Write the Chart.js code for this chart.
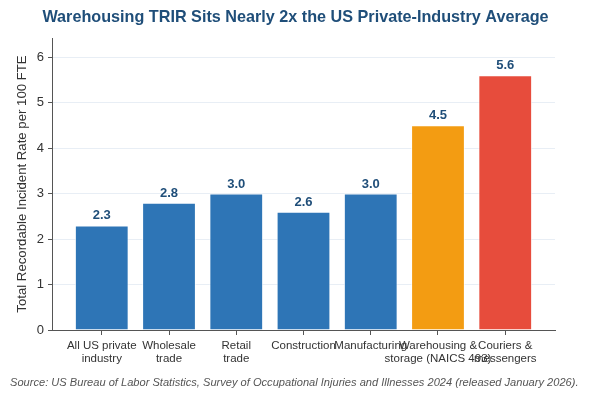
<!DOCTYPE html>
<html>
<head>
<meta charset="utf-8">
<script src="https://cdn.jsdelivr.net/npm/chart.js@4"></script>
<style>
html,body{margin:0;padding:0;background:#fff;}
#wrap{width:590px;height:400px;position:relative;}
</style>
</head>
<body>
<div id="wrap"><canvas id="c" width="590" height="400"></canvas></div>
<script>
const categories = [
  ["All US private", "industry"],
  ["Wholesale", "trade"],
  ["Retail", "trade"],
  ["Construction"],
  ["Manufacturing"],
  ["Warehousing &", "storage (NAICS 493)"],
  ["Couriers &", "messengers"]
];
const trirValues = [2.3, 2.8, 3.0, 2.6, 3.0, 4.5, 5.6];
const barColors = ["#2e75b6", "#2e75b6", "#2e75b6", "#2e75b6", "#2e75b6", "#f39c12", "#e74c3c"];
const yTicks = [0, 1, 2, 3, 4, 5, 6];
const titleText = "Warehousing TRIR Sits Nearly 2x the US Private-Industry Average";
const sourceText = "Source: US Bureau of Labor Statistics, Survey of Occupational Injuries and Illnesses 2024 (released January 2026).";
const yTitle = "Total Recordable Incident Rate per 100 FTE";

const FONT = "'Liberation Sans', Arial, sans-serif";

const labelPlugin = {
  id: 'barLabels',
  afterDatasetsDraw(chart) {
    const ctx = chart.ctx;
    const meta = chart.getDatasetMeta(0);
    ctx.save();
    ctx.font = "bold 13px " + FONT;
    ctx.fillStyle = "#1f4e79";
    ctx.textAlign = "center";
    ctx.textBaseline = "bottom";
    meta.data.forEach((bar, i) => {
      ctx.fillText(trirValues[i].toFixed(1), bar.x, bar.y - 3);
    });
    ctx.restore();
  },
  afterDraw(chart) {
    const ctx = chart.ctx;
    ctx.save();
    ctx.font = "bold 16.2px " + FONT;
    ctx.fillStyle = "#1f4e79";
    ctx.textAlign = "center";
    ctx.textBaseline = "middle";
    ctx.fillText(titleText, 295.5, 18);
    ctx.font = "italic 11.1px " + FONT;
    ctx.fillStyle = "#555555";
    ctx.textAlign = "left";
    ctx.fillText(sourceText, 10, 383);
    ctx.restore();
  }
};

new Chart(document.getElementById('c'), {
  type: 'bar',
  data: {
    datasets: [{
      data: trirValues.map((v, i) => ({x: i, y: v})),
      backgroundColor: barColors,
      borderColor: "rgba(255,255,255,0.7)",
      borderWidth: 1,
      barPercentage: 0.8,
      categoryPercentage: 1.0
    }]
  },
  options: {
    responsive: false,
    animation: false,
    devicePixelRatio: 1,
    layout: { padding: { top: 38, right: 35, bottom: 0, left: 0 } },
    plugins: { legend: { display: false }, tooltip: { enabled: false }, title: { display: false } },
    scales: {
      x: {
        type: 'linear',
        offset: false,
        min: -0.74,
        max: 6.74,
        afterBuildTicks(scale) { scale.ticks = categories.map((_, i) => ({ value: i })); },
        afterFit(scale) { scale.height = 70; },
        ticks: {
          autoSkip: false,
          maxRotation: 0,
          minRotation: 0,
          padding: 5,
          color: "#333333",
          font: { family: FONT, size: 11.5, lineHeight: 1.07 },
          callback: (v) => categories[v]
        },
        grid: { display: true, offset: false, drawOnChartArea: false, tickLength: 5, color: "#555555", tickColor: "#555555" },
        border: { display: true, color: "#555555", width: 1 }
      },
      y: {
        min: 0,
        max: 6.42,
        afterBuildTicks(scale) { scale.ticks = yTicks.map(v => ({ value: v })); },
        afterFit(scale) { scale.width = 52; },
        ticks: {
          color: "#333333",
          padding: 4,
          font: { family: FONT, size: 13 }
        },
        grid: { color: "#e8eef5", tickColor: "#555555", tickLength: 4, lineWidth: 1 },
        border: { display: true, color: "#555555", width: 1 },
        title: {
          display: true,
          text: yTitle,
          color: "#333333",
          padding: { top: 14, bottom: 0 },
          font: { family: FONT, size: 13.2 }
        }
      }
    }
  },
  plugins: [labelPlugin]
});
</script>
</body>
</html>
